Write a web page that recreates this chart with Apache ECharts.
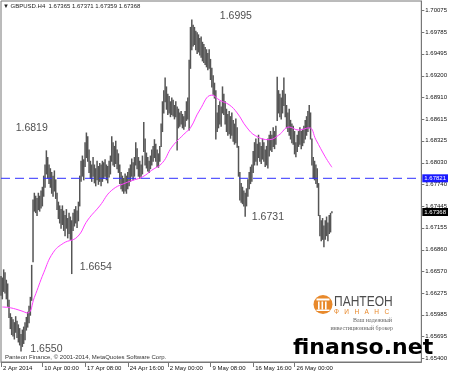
<!DOCTYPE html>
<html><head><meta charset="utf-8">
<script src="https://cdn.jsdelivr.net/npm/echarts@6/dist/echarts.min.js"></script>
<style>html,body{margin:0;padding:0;background:#fff}#c{width:450px;height:374px}</style>
</head><body><div id="c"></div>
<script>
// GBPUSD H4 bar highs / lows
const highs = [1.6650,1.6648,1.6659,1.6655,1.6645,1.6640,1.6618,1.6600,1.6595,1.6592,
1.6588,1.6596,1.6590,1.6585,1.6580,1.6572,1.6578,1.6582,1.6588,1.6595,
1.6602,1.6610,1.6622,1.6665,1.6753,1.6762,1.6758,1.6755,1.6762,1.6758,
1.6765,1.6770,1.6785,1.6800,1.6819,1.6810,1.6800,1.6795,1.6790,1.6785,
1.6792,1.6780,1.6762,1.6750,1.6745,1.6740,1.6745,1.6738,1.6732,1.6740,
1.6728,1.6735,1.6730,1.6725,1.6735,1.6740,1.6744,1.6738,1.6750,1.6785,
1.6805,1.6812,1.6807,1.6830,1.6843,1.6838,1.6820,1.6805,1.6800,1.6810,
1.6800,1.6795,1.6805,1.6798,1.6802,1.6800,1.6805,1.6803,1.6807,1.6800,
1.6798,1.6805,1.6812,1.6838,1.6830,1.6825,1.6832,1.6820,1.6815,1.6800,
1.6790,1.6785,1.6782,1.6788,1.6785,1.6790,1.6795,1.6800,1.6808,1.6803,
1.6810,1.6830,1.6822,1.6810,1.6805,1.6800,1.6812,1.6857,1.6835,1.6816,
1.6810,1.6805,1.6812,1.6820,1.6825,1.6834,1.6828,1.6820,1.6815,1.6825,
1.6855,1.6885,1.6900,1.6917,1.6905,1.6895,1.6892,1.6885,1.6890,1.6887,
1.6880,1.6885,1.6878,1.6875,1.6870,1.6872,1.6868,1.6865,1.6872,1.6885,
1.6890,1.6941,1.6985,1.6995,1.6988,1.6985,1.6980,1.6978,1.6975,1.6970,
1.6972,1.6965,1.6962,1.6958,1.6955,1.6950,1.6955,1.6942,1.6930,1.6920,
1.6910,1.6900,1.6870,1.6880,1.6885,1.6878,1.6905,1.6895,1.6885,1.6875,
1.6868,1.6872,1.6865,1.6870,1.6860,1.6855,1.6862,1.6850,1.6825,1.6790,
1.6775,1.6770,1.6765,1.6762,1.6768,1.6780,1.6790,1.6797,1.6800,1.6818,
1.6830,1.6835,1.6828,1.6840,1.6830,1.6825,1.6835,1.6830,1.6820,1.6825,
1.6835,1.6840,1.6845,1.6840,1.6850,1.6845,1.6852,1.6918,1.6900,1.6895,
1.6890,1.6900,1.6917,1.6895,1.6880,1.6870,1.6875,1.6860,1.6855,1.6852,
1.6845,1.6830,1.6840,1.6845,1.6850,1.6845,1.6848,1.6852,1.6860,1.6865,
1.6872,1.6880,1.6870,1.6835,1.6810,1.6805,1.6800,1.6795,1.6775,1.6732,
1.6725,1.6728,1.6718,1.6725,1.6730,1.6722,1.6732,1.6735,1.67371];
const lows = [1.6625,1.6620,1.6630,1.6628,1.6620,1.6610,1.6595,1.6580,1.6572,1.6570,
1.6566,1.6575,1.6568,1.6562,1.6558,1.6550,1.6556,1.6560,1.6565,1.6578,
1.6582,1.6588,1.6598,1.6618,1.6670,1.6738,1.6736,1.6732,1.6740,1.6738,
1.6742,1.6745,1.6758,1.6770,1.6788,1.6782,1.6775,1.6770,1.6762,1.6758,
1.6765,1.6755,1.6740,1.6728,1.6722,1.6715,1.6720,1.6712,1.6705,1.6715,
1.6702,1.6708,1.6700,1.6654,1.6712,1.6718,1.6722,1.6716,1.6725,1.6745,
1.6778,1.6785,1.6780,1.6798,1.6810,1.6805,1.6790,1.6782,1.6778,1.6785,
1.6776,1.6772,1.6780,1.6774,1.6778,1.6772,1.6778,1.6782,1.6785,1.6780,
1.6776,1.6784,1.6788,1.6805,1.6800,1.6798,1.6802,1.6795,1.6790,1.6775,
1.6768,1.6765,1.6762,1.6765,1.6762,1.6768,1.6772,1.6778,1.6785,1.6780,
1.6785,1.6800,1.6795,1.6785,1.6782,1.6785,1.6788,1.6818,1.6800,1.6796,
1.6792,1.6790,1.6795,1.6800,1.6805,1.6810,1.6805,1.6798,1.6797,1.6805,
1.6825,1.6845,1.6870,1.6885,1.6875,1.6868,1.6870,1.6865,1.6868,1.6866,
1.6862,1.6865,1.6820,1.6850,1.6852,1.6855,1.6850,1.6848,1.6852,1.6860,
1.6862,1.6847,1.6930,1.6955,1.6960,1.6962,1.6955,1.6950,1.6952,1.6948,
1.6945,1.6940,1.6938,1.6935,1.6932,1.6928,1.6930,1.6915,1.6905,1.6895,
1.6890,1.6835,1.6845,1.6850,1.6855,1.6852,1.6870,1.6868,1.6855,1.6845,
1.6840,1.6842,1.6836,1.6840,1.6832,1.6828,1.6830,1.6824,1.6785,1.6753,
1.6750,1.6748,1.6745,1.6731,1.6745,1.6758,1.6768,1.6775,1.6778,1.6790,
1.6800,1.6805,1.6800,1.6810,1.6805,1.6802,1.6808,1.6805,1.6798,1.6800,
1.6796,1.6812,1.6820,1.6818,1.6825,1.6822,1.6828,1.6860,1.6870,1.6865,
1.6862,1.6870,1.6880,1.6865,1.6850,1.6845,1.6840,1.6835,1.6830,1.6828,
1.6815,1.6811,1.6818,1.6825,1.6828,1.6822,1.6826,1.6830,1.6835,1.6840,
1.6845,1.6850,1.6835,1.6800,1.6782,1.6780,1.6775,1.6770,1.6732,1.6705,
1.6698,1.6700,1.6690,1.6700,1.6705,1.6698,1.6708,1.6710,1.67359];
// moving average, read at sample bars: [bar, value]
const maPoints = [[1,1.6609],[7,1.6608],[15,1.6604],[20,1.6601],[25,1.6622],[32,1.6655],[39,1.6682],
[47,1.6695],[57,1.6703],[65,1.6726],[74,1.6745],[83,1.6766],[95,1.6777],[106,1.6784],[113,1.6793],
[121,1.6803],[128,1.6824],[138,1.6843],[142,1.6850],[149,1.6874],[158,1.6894],[164,1.6887],
[171,1.6881],[177,1.6870],[184,1.6851],[191,1.6839],[201,1.6834],[208,1.6840],[216,1.6851],
[223,1.6847],[231,1.6850],[236,1.6834],[243,1.6811],[248,1.6797]];
const levelLine = 1.67821;
const lastPrice = 1.67368;
const tickLabels = ['1.65400','1.65695','1.65985','1.66275','1.66570','1.66860','1.67155','1.67445','1.67740',
'1.68030','1.68325','1.68615','1.68910','1.69200','1.69495','1.69785','1.70075'];
const timeLabels = ['2 Apr 2014','10 Apr 00:00','17 Apr 08:00','24 Apr 16:00','2 May 00:00','9 May 08:00','16 May 16:00','26 May 00:00'];
const timeLabelBars = [0,31,63,95,125,157,189,220];
const noteTexts = ['1.6995','1.6819','1.6731','1.6654','1.6550'];
const noteBars = [164,11,188,59,22];
const notePrices = [1.69997,1.68498,1.67301,1.66629,1.65526];
const headerText = '\u25BC GBPUSD.H4  1.67365 1.67371 1.67359 1.67368';
const copyrightText = 'Panteon Finance, \u00A9 2001-2014, MetaQuotes Software Corp.';

const NCAT = 316;
const cats = Array.from({length: NCAT}, (_, i) => String(i));
const tickVals = tickLabels.map(Number);
const bars = highs.map((h, i) => [i, lows[i], h]);

const chart = echarts.init(document.getElementById('c'), null, {renderer: 'canvas'});
const isLabelBar = (i) => timeLabelBars.indexOf(i) >= 0;
const LOGO = '#e8892b';
const BLUE = '#3030ff';
const FONT = '"Liberation Sans", Arial, sans-serif';
const priceBox = (text, bg) => ({show: true, formatter: text, distance: 1, color: '#fff', backgroundColor: bg,
  padding: [1, 2, 1, 2], fontSize: 6, fontFamily: FONT, align: 'left', verticalAlign: 'middle'});

chart.setOption({
  animation: false,
  backgroundColor: '#ffffff',
  grid: {left: 1, right: 28, top: 1, bottom: 12, show: true, borderColor: '#777', borderWidth: 1},
  xAxis: {
    type: 'category', data: cats, boundaryGap: false,
    axisLine: {show: true, lineStyle: {color: '#777', width: 1}},
    axisTick: {show: true, interval: (i) => isLabelBar(i), length: 5, lineStyle: {color: '#777'}},
    axisLabel: {show: true, interval: (i) => isLabelBar(i), hideOverlap: false,
      formatter: (v) => timeLabels[timeLabelBars.indexOf(Number(v))] || '',
      align: 'left', margin: 3, padding: [0, 0, 0, 2], fontSize: 6,
      fontFamily: '"Liberation Sans Narrow", "Liberation Sans", sans-serif', color: '#111'},
    splitLine: {show: false}
  },
  yAxis: {
    type: 'value', position: 'right', min: 1.653507, max: 1.702054, scale: true,
    splitLine: {show: false},
    axisLine: {show: true, lineStyle: {color: '#777', width: 1}},
    axisTick: {show: true, length: 3, customValues: tickVals, lineStyle: {color: '#777'}},
    axisLabel: {show: true, customValues: tickVals, hideOverlap: false,
      formatter: (v) => { const k = tickVals.indexOf(v); return k >= 0 ? tickLabels[k] : v.toFixed(5); },
      margin: 4, fontSize: 6, fontFamily: FONT, color: '#111'}
  },
  series: [
    {
      type: 'custom', name: 'GBPUSD.H4', data: bars, encode: {x: 0, y: [1, 2]}, silent: true, z: 2,
      renderItem: (params, api) => {
        const i = api.value(0);
        const lo = api.coord([i, api.value(1)]);
        const hi = api.coord([i, api.value(2)]);
        return {type: 'line', shape: {x1: lo[0], y1: lo[1] + 0.5, x2: hi[0], y2: hi[1] - 0.5},
          style: {stroke: '#555', lineWidth: 1.5}};
      }
    },
    {
      type: 'line', name: 'MA', data: maPoints, smooth: 0.45, showSymbol: false, silent: true, z: 3,
      color: '#ff3dff',
      lineStyle: {color: '#ff3dff', width: 1}
    },
    {
      type: 'line', name: 'level', data: [[0, levelLine], [NCAT - 1, levelLine]], silent: true, z: 4,
      showSymbol: false, color: BLUE, clip: false,
      lineStyle: {color: BLUE, type: [9, 5], width: 1},
      endLabel: priceBox(levelLine.toFixed(5), '#1a1aff')
    },
    {
      type: 'line', name: 'last', data: [[0, lastPrice], [NCAT - 1, lastPrice]], silent: true, z: 5,
      showSymbol: false, clip: false,
      lineStyle: {color: '#000', width: 0, opacity: 0},
      endLabel: priceBox(lastPrice.toFixed(5), '#000')
    },
    {
      type: 'scatter', name: 'notes', silent: true, z: 6, symbolSize: 0,
      data: noteBars.map((b, k) => [b, notePrices[k]]),
      label: {show: true, position: 'right', distance: 0, formatter: (p) => noteTexts[p.dataIndex],
        fontSize: 10.5, fontFamily: FONT, color: '#222'}
    }
  ],
  graphic: [
    {type: 'text', x: 3, y: 6, z: 10, style: {text: headerText, fontSize: 6, fontFamily: FONT, fill: '#222', verticalAlign: 'middle'}},
    {type: 'text', x: 5, y: 357.5, z: 10, style: {text: copyrightText, fontSize: 6, fontFamily: FONT, fill: '#333', verticalAlign: 'middle'}},
    {type: 'circle', z: 10, shape: {cx: 323, cy: 304.5, r: 9.5}, style: {fill: LOGO}},
    {type: 'rect', z: 11, shape: {x: 316.5, y: 298.5, width: 13, height: 2}, style: {fill: '#fff'}},
    {type: 'rect', z: 11, shape: {x: 318, y: 301.5, width: 1.6, height: 8}, style: {fill: '#fff'}},
    {type: 'rect', z: 11, shape: {x: 321.5, y: 301.5, width: 1.6, height: 8}, style: {fill: '#fff'}},
    {type: 'rect', z: 11, shape: {x: 325, y: 301.5, width: 1.6, height: 8}, style: {fill: '#fff'}},
    {type: 'rect', z: 11, shape: {x: 316.5, y: 309.5, width: 13, height: 1.5}, style: {fill: '#fff'}},
    {type: 'text', x: 334, y: 302, scaleX: 0.8, z: 10, style: {text: 'ПАНТЕОН', fontSize: 15, fontFamily: FONT, fill: '#4d4d4d', verticalAlign: 'middle'}},
    {type: 'text', x: 334, y: 312.5, z: 10, style: {text: 'Ф   И   Н   А   Н   С', fontSize: 6.5, fontFamily: FONT, fill: LOGO, verticalAlign: 'middle'}},
    {type: 'text', x: 392, y: 320, z: 10, style: {text: 'Ваш надежный', fontSize: 6, fontFamily: '"Liberation Serif", serif', fill: '#666', align: 'right', verticalAlign: 'middle'}},
    {type: 'text', x: 393, y: 328, z: 10, style: {text: 'инвестиционный брокер', fontSize: 6, fontFamily: '"Liberation Serif", serif', fill: '#666', align: 'right', verticalAlign: 'middle'}},
    {type: 'text', x: 293, y: 348, z: 20, style: {text: 'finanso.net', fontSize: 22, fontWeight: 'bold', fontFamily: '"DejaVu Sans", sans-serif', fill: '#000', verticalAlign: 'middle'}}
  ]
});
</script>
</body></html>
